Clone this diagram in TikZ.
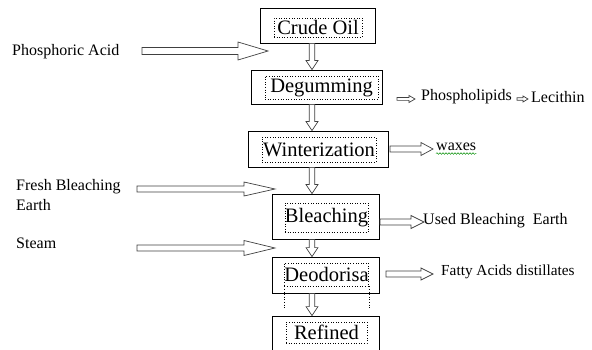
\documentclass[tikz,border=0pt]{standalone}
\usepackage{fontspec}
\setmainfont{Liberation Serif}
\usetikzlibrary{calc,decorations.pathmorphing}
\newcommand{\HArrow}[5]{%
  \draw[blockarrow] let \p1=#1, \p2=#2 in
    (\x1,\y1+#3) -- (\x2-#5,\y1+#3) -- (\x2-#5,\y1+#4) -- (\x2,\y1)
    -- (\x2-#5,\y1-#4) -- (\x2-#5,\y1-#3) -- (\x1,\y1-#3) -- cycle;}
\newcommand{\VArrow}[5]{%
  \draw[blockarrow] let \p1=#1, \p2=#2 in
    (\x1-#3,\y1) -- (\x1-#3,\y2+#5) -- (\x1-#4,\y2+#5) -- (\x1,\y2)
    -- (\x1+#4,\y2+#5) -- (\x1+#3,\y2+#5) -- (\x1+#3,\y1) -- cycle;}
\tikzset{
  outerbox/.style={draw, line width=0.8pt, inner sep=0pt},
  dotbox/.style={draw, dotted, line width=0.6pt, inner sep=0pt,
    font=\fontsize{20.5}{24}\selectfont},
  blockarrow/.style={draw=black!75, fill=white, line width=0.7pt, line join=miter},
  sidetext/.style={inner sep=0pt, anchor=west, font=\fontsize{16}{20}\selectfont},
}
\begin{document}
\begin{tikzpicture}[x=1pt,y=-1pt]
\useasboundingbox (0,0) rectangle (592,350);
\clip (0,0) rectangle (592,350);
% main boxes
\node[outerbox, minimum width=115, minimum height=35] (crude) at (317.5,25.5) {};
\node[dotbox, minimum width=88, minimum height=19] (crudeT) at (318,27.5) {Crude Oil};
\node[outerbox, minimum width=131, minimum height=34] (degum) at (316.5,87) {};
\node[dotbox, minimum width=113, minimum height=23] (degumT) at (321.5,87.5) {Degumming};
\node[outerbox, minimum width=140, minimum height=36] (winter) at (318,149) {};
\node[dotbox, minimum width=114, minimum height=25] (winterT) at (319,149.5) {Winterization};
\node[outerbox, minimum width=107, minimum height=45] (bleach) at (325.5,216.5) {};
\node[dotbox, minimum width=83, minimum height=29] (bleachT) at (326.5,217.5) {Bleaching};
\node[outerbox, minimum width=107, minimum height=36] (deo) at (325.5,275) {};
\node[dotbox, minimum width=81, minimum height=23] (deoT) at (326.5,274.5) {Deodorisa};
\draw[dotted, line width=0.6pt] (deoT.south west) -- ++(0,21);
\draw[dotted, line width=0.6pt] (deoT.south east) -- ++(0,21);
\node[outerbox, minimum width=107, minimum height=48] (refined) at (325.5,340) {};
\node[dotbox, minimum width=81, minimum height=21] (refT) at (326.5,332.5) {Refined};
% vertical arrows
\coordinate (vx) at (312,0);
\VArrow{(crude.south -| vx)}{(degum.north -| vx)}{2.8pt}{6pt}{9pt}
\VArrow{(degum.south -| vx)}{(winter.north -| vx)}{2.8pt}{6pt}{9pt}
\VArrow{(winter.south -| vx)}{(bleach.north -| vx)}{2.8pt}{6pt}{9pt}
\VArrow{(bleach.south -| vx)}{(deo.north -| vx)}{2.8pt}{6pt}{9pt}
\VArrow{(deo.south -| vx)}{(refined.north -| vx)}{2.8pt}{6pt}{9pt}
% left inputs
\node[sidetext] (pa) at (12,52) {Phosphoric Acid};
\node[sidetext, align=left, font=\fontsize{16}{20}\selectfont] (fb) at (16,195) {Fresh Bleaching\\Earth};
\node[sidetext] (st) at (16,243) {Steam};
\coordinate (paT) at (142,51); \coordinate (paH) at (268,51);
\coordinate (fbT) at (137,189); \coordinate (fbH) at (275,189);
\coordinate (stT) at (137,248); \coordinate (stH) at (275,248);
\HArrow{(paT)}{(paH)}{3.5pt}{9pt}{30pt}
\HArrow{(fbT)}{(fbH)}{3pt}{7pt}{31pt}
\HArrow{(stT)}{(stH)}{3pt}{7.5pt}{31pt}
% right outputs
\node[sidetext] (phos) at (421,97) {Phospholipids};
\node[sidetext] (lec) at (531,97) {Lecithin};
\coordinate (dgT) at (397,99); \coordinate (dgH) at (415,99);
\coordinate (phT) at (517,99); \coordinate (phH) at (528,99);
\HArrow{(dgT)}{(dgH)}{1.4pt}{3.5pt}{6pt}
\HArrow{(phT)}{(phH)}{1.2pt}{3pt}{5pt}
\node[sidetext] (wax) at (436,147) {waxes};
\draw[green!55!black, line width=0.5pt, decorate, decoration={snake, segment length=3pt, amplitude=0.8pt}]
  ([yshift=-2.5pt]wax.south west) -- ([yshift=-2.5pt]wax.south east);
\coordinate (wxT) at (390,149); \coordinate (wxH) at (433,149);
\HArrow{(wxT)}{(wxH)}{3pt}{6.5pt}{12pt}
\node[sidetext] (used) at (423,221) {Used Bleaching\ \ Earth};
\coordinate (ubT) at (380,222); \coordinate (ubH) at (424,222);
\HArrow{(ubT)}{(ubH)}{3pt}{6.5pt}{13pt}
\node[sidetext, font=\fontsize{15.3}{18}\selectfont] (fat) at (441,272) {Fatty Acids distillates};
\coordinate (faT) at (386,274); \coordinate (faH) at (433,274);
\HArrow{(faT)}{(faH)}{3pt}{6pt}{12pt}
\end{tikzpicture}
\end{document}
